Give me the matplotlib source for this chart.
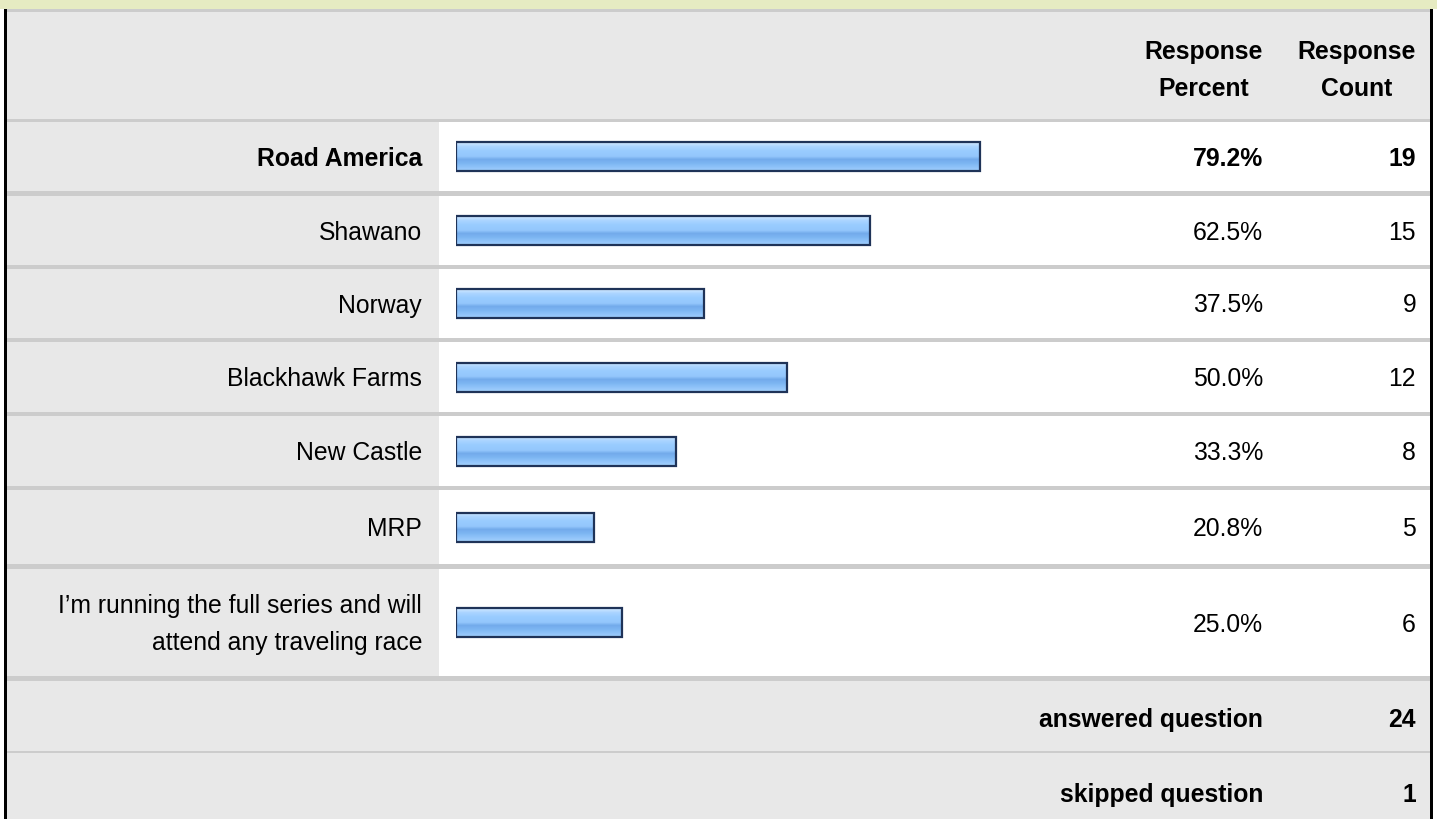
"""
Survey results table: response percent bars with counts
"""
import matplotlib.pyplot as plt
from matplotlib.patches import Rectangle
from matplotlib.colors import LinearSegmentedColormap
import numpy as np

# Data
answers = ['Road America', 'Shawano', 'Norway', 'Blackhawk Farms', 'New Castle', 'MRP',
           'I\u2019m running the full series and will\nattend any traveling race']
percents = [79.2, 62.5, 37.5, 50.0, 33.3, 20.8, 25.0]
counts = [19, 15, 9, 12, 8, 5, 6]
header = ['Response\nPercent', 'Response\nCount']
footer_labels = ['answered question', 'skipped question']
footer_counts = [24, 1]

W, H = 1437, 819
FONT = 'Liberation Sans'
FS = 17.8
LINE = 37  # px between wrapped lines

# row boundaries (pixels from top)
row_tops = [122, 196, 269, 342, 416, 490, 569]
row_bots = [191, 265, 338, 412, 486, 564, 676]
row_mid = [(a + b) / 2 for a, b in zip(row_tops, row_bots)]

fig = plt.figure(figsize=(W / 100, H / 100), dpi=100)
ax = fig.add_axes([0, 0, 1, 1])
ax.set_xlim(0, W)
ax.set_ylim(H, 0)
ax.axis('off')

def box(x0, y0, x1, y1, color, z=0):
	ax.add_patch(Rectangle((x0, y0), x1 - x0, y1 - y0, facecolor=color, edgecolor='none', zorder=z))

def lines(x, mid, txt, ha='right', bold=False):
	# draw each line on its own baseline so caps sit centred on mid
	parts = txt.split('\n')
	first = mid - LINE * (len(parts) - 1) / 2 + 9
	for k, s in enumerate(parts):
		ax.text(x, first + k * LINE, s, ha=ha, va='baseline', fontsize=FS,
				fontweight='bold' if bold else 'normal', family=FONT, zorder=4)

# backgrounds
box(0, 0, W, 9, '#e6ebc2')
box(7, 9, 1431, 12, '#cccccc')
box(7, 12, 1431, 119, '#e8e8e8')
box(7, 119, 1431, 122, '#cccccc')
for t, b in zip(row_tops, row_bots):
	box(7, t, 439, b, '#e8e8e8')
	box(439, t, 1431, b, 'white')
	box(7, b, 1431, b + 5, '#cccccc')
box(7, 681, 1431, H, '#e8e8e8')
box(7, 751, 1431, 753, '#cccccc')
# outer black border
box(4, 9, 7, H, 'black', 3)
box(1430, 9, 1433, H, 'black', 3)

# header
lines(1204, 68, header[0], ha='center', bold=True)
lines(1357, 68, header[1], ha='center', bold=True)

# rows
for i, (lab, p, c) in enumerate(zip(answers, percents, counts)):
	lines(422, row_mid[i], lab, bold=(i == 0))
	lines(1263, row_mid[i], f'{p:.1f}%', bold=(i == 0))
	lines(1416, row_mid[i], str(c), bold=(i == 0))

# footer
for lab, c, y in zip(footer_labels, footer_counts, [718, 793]):
	lines(1263, y, lab, bold=True)
	lines(1416, y, str(c), bold=True)

# bars in their own axes: 0..100 percent across the bar column
bx = fig.add_axes([456 / W, 0, (1118 - 456) / W, 1], sharey=ax)
bx.set_xlim(0, 100)
bx.axis('off')
bx.patch.set_alpha(0)

grad = LinearSegmentedColormap.from_list('bar', [
	(0.0, '#d4eaff'), (0.15, '#aad4ff'), (0.3, '#99ccff'), (0.5, '#93c6fc'),
	(0.6, '#72aaeb'), (0.75, '#7eb7f3'), (0.9, '#92c5fa'), (1.0, '#a0cefb')])
g = np.linspace(0, 1, 64).reshape(-1, 1)

bars = bx.barh(row_mid, percents, height=29, facecolor='none', edgecolor='#1f3358',
			   linewidth=1.6, zorder=3)
for r in bars:
	x0, y0 = r.get_x(), r.get_y()
	im = bx.imshow(g, cmap=grad, aspect='auto', origin='upper', zorder=2,
				   extent=[x0, x0 + r.get_width(), y0 + r.get_height(), y0])
	im.set_clip_path(r)
bx.set_xlim(0, 100)
bx.set_ylim(H, 0)

fig.savefig('out.png', dpi=100)
